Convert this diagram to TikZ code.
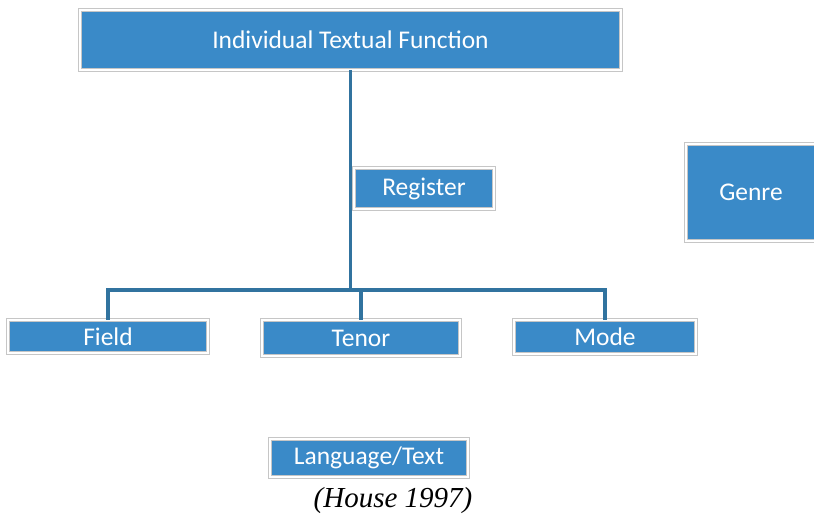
\documentclass[tikz,border=0pt]{standalone}
\usepackage{fontspec}
\setmainfont{Carlito}
\newfontfamily\capfont{Liberation Serif}
\definecolor{boxblue}{HTML}{3A8AC8}
\definecolor{linkblue}{HTML}{31739F}
\tikzset{
  blockbox/.style={draw=gray!45, double=white, double distance=1.6pt, line width=0.4pt,
    fill=boxblue, text=white, rectangle, inner sep=0pt, font=\fontsize{14.5}{16}\selectfont},
  link/.style={draw=linkblue, line width=2.2pt}
}

\begin{document}
\begin{tikzpicture}[x=0.02cm, y=-0.02cm]
\useasboundingbox (0,0) rectangle (814,517);
\node[blockbox, minimum width=10.82cm, minimum height=1.2cm] (itf) at (350.5,40) {Individual Textual Function};
\node[blockbox, minimum width=2.6cm, minimum height=1.94cm] (genre) at (751,192.5) {Genre};
\node[blockbox, minimum width=4cm, minimum height=0.66cm] (field) at (108,336.5) {Field};
\node[blockbox, minimum width=3.96cm, minimum height=0.72cm] (tenor) at (361,338) {Tenor};
\node[blockbox, minimum width=3.64cm, minimum height=0.68cm] (mode) at (605,337) {Mode};
\node[blockbox, minimum width=3.96cm, minimum height=0.76cm] (lang) at (369,458) {Language/Text};
\node[font=\capfont\itshape\fontsize{16.5}{18}\selectfont] (src) at (393,501) {(House 1997)};
\coordinate (hub) at (352,290);
% tree lines
\path[link] (itf.south) -- (itf.south |- hub);
\path[link] (field.north) -- (field.north |- hub) -- (mode.north |- hub) -- (mode.north);
\path[link] (tenor.north) -- (tenor.north |- hub);
\node[blockbox, minimum width=2.8cm, minimum height=0.82cm] (reg) at (424,188.5) {Register};
\end{tikzpicture}
\end{document}
